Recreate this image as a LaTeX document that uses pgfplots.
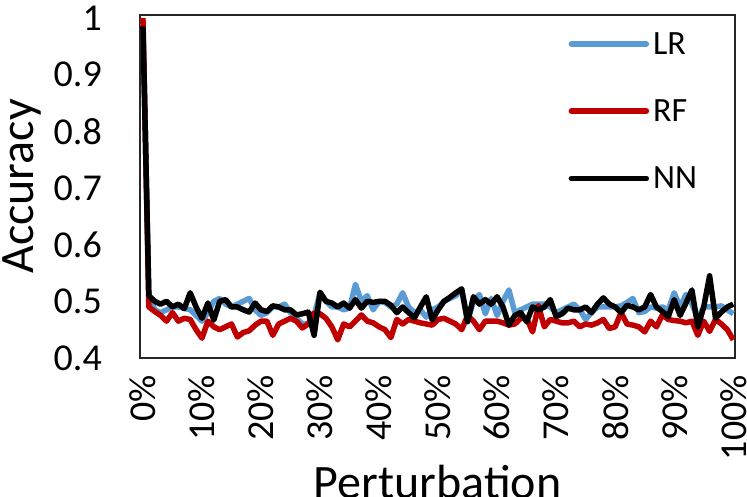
\documentclass[border=0pt]{standalone}
\usepackage{pgfplots}
\pgfplotsset{compat=1.18}
\usepackage{pgfplotstable}
\usepackage{fontspec}
\setmainfont{Carlito}
\definecolor{lrblue}{RGB}{91,155,213}
\definecolor{rfred}{RGB}{192,0,0}
\pgfplotstableread{
x lr rf nn
0 0.99 1.0 0.985
1 0.51 0.49 0.51
2 0.485 0.482 0.50
3 0.48 0.475 0.495
4 0.485 0.465 0.50
5 0.49 0.48 0.49
6 0.49 0.465 0.495
7 0.488 0.47 0.487
8 0.485 0.468 0.515
9 0.475 0.45 0.49
10 0.465 0.435 0.47
11 0.48 0.465 0.497
12 0.50 0.455 0.467
13 0.505 0.45 0.50
14 0.495 0.455 0.503
15 0.49 0.46 0.49
16 0.495 0.437 0.49
17 0.50 0.445 0.485
18 0.505 0.448 0.481
19 0.485 0.458 0.497
20 0.475 0.465 0.485
21 0.48 0.465 0.482
22 0.49 0.44 0.492
23 0.49 0.46 0.49
24 0.495 0.465 0.485
25 0.48 0.47 0.485
26 0.47 0.465 0.476
27 0.46 0.453 0.478
28 0.46 0.46 0.481
29 0.475 0.48 0.44
30 0.515 0.478 0.516
31 0.50 0.47 0.50
32 0.49 0.455 0.497
33 0.49 0.432 0.49
34 0.485 0.46 0.497
35 0.488 0.455 0.488
36 0.53 0.465 0.503
37 0.50 0.476 0.488
38 0.51 0.465 0.50
39 0.485 0.462 0.498
40 0.50 0.455 0.50
41 0.498 0.45 0.50
42 0.49 0.436 0.493
43 0.495 0.468 0.48
44 0.515 0.46 0.49
45 0.49 0.468 0.48
46 0.48 0.465 0.471
47 0.485 0.462 0.49
48 0.472 0.46 0.508
49 0.485 0.458 0.467
50 0.49 0.468 0.485
51 0.50 0.47 0.50
52 0.505 0.465 0.507
53 0.51 0.46 0.515
54 0.52 0.45 0.522
55 0.465 0.475 0.464
56 0.50 0.465 0.508
57 0.512 0.45 0.495
58 0.478 0.465 0.503
59 0.505 0.465 0.495
60 0.475 0.465 0.508
61 0.50 0.462 0.49
62 0.52 0.458 0.458
63 0.48 0.46 0.475
64 0.485 0.47 0.48
65 0.49 0.47 0.464
66 0.495 0.446 0.49
67 0.495 0.492 0.485
68 0.495 0.455 0.49
69 0.49 0.468 0.503
70 0.48 0.465 0.473
71 0.485 0.462 0.478
72 0.49 0.462 0.488
73 0.495 0.465 0.485
74 0.485 0.455 0.485
75 0.468 0.46 0.49
76 0.48 0.458 0.48
77 0.49 0.462 0.495
78 0.49 0.468 0.506
79 0.49 0.452 0.495
80 0.49 0.455 0.49
81 0.492 0.48 0.48
82 0.498 0.46 0.493
83 0.505 0.458 0.49
84 0.48 0.455 0.485
85 0.482 0.446 0.49
86 0.49 0.465 0.512
87 0.488 0.455 0.49
88 0.49 0.476 0.482
89 0.485 0.468 0.473
90 0.515 0.466 0.503
91 0.49 0.465 0.475
92 0.512 0.462 0.497
93 0.495 0.465 0.52
94 0.47 0.44 0.455
95 0.49 0.465 0.49
96 0.49 0.447 0.545
97 0.49 0.468 0.47
98 0.492 0.46 0.481
99 0.485 0.45 0.49
100 0.478 0.432 0.495
}\datatable
\begin{document}
\begin{tikzpicture}
\path[use as bounding box] (0,0) rectangle (747bp,497bp);
\begin{axis}[
  at={(140bp,139bp)}, anchor=south west,
  scale only axis, width=595bp, height=343bp,
  xmin=-0.5, xmax=100.3, ymin=0.4, ymax=1.005,
  xtick={0,10,20,30,40,50,60,70,80,90,100},
  xticklabels={0\%,10\%,20\%,30\%,40\%,50\%,60\%,70\%,80\%,90\%,100\%},
  ytick={0.4,0.5,0.6,0.7,0.8,0.9,1},
  yticklabels={0.4,0.5,0.6,0.7,0.8,0.9,1},
  major tick length=0pt,
  axis line style={draw=black!85, line width=1.5bp},
  tick label style={font=\fontsize{38bp}{40bp}\selectfont},
  xticklabel style={rotate=90, anchor=east, inner sep=0pt},
  xticklabel shift=17bp,
  yticklabel style={anchor=east, inner sep=0pt},
  yticklabel shift=38bp,
  xlabel={Perturbation}, ylabel={Accuracy},
  label style={font=\fontsize{48bp}{50bp}\selectfont},
  xlabel style={at={(axis description cs:0.5,-0.312)}, anchor=north, inner sep=0pt},
  ylabel style={at={(axis description cs:-0.2303,0.5)}, anchor=north, inner sep=0pt},
  legend style={at={(0.720,0.962)}, anchor=north west, draw=none, fill=none,
    font=\fontsize{34bp}{36bp}\selectfont, row sep=36bp, inner sep=0pt,
    nodes={inner sep=4bp}},
  legend cell align=left,
  legend image code/.code={\draw[#1, line cap=round] (0bp,0bp) -- (75bp,0bp);},
  every axis plot/.append style={line width=5.5bp, line join=round},
]
\addplot[lrblue, no markers] table[x=x, y=lr] {\datatable};
\addlegendentry{LR}
\addplot[rfred, no markers] table[x=x, y=rf] {\datatable};
\addlegendentry{RF}
\addplot[black, no markers] table[x=x, y=nn] {\datatable};
\addlegendentry{NN}
\end{axis}
\end{tikzpicture}
\end{document}
